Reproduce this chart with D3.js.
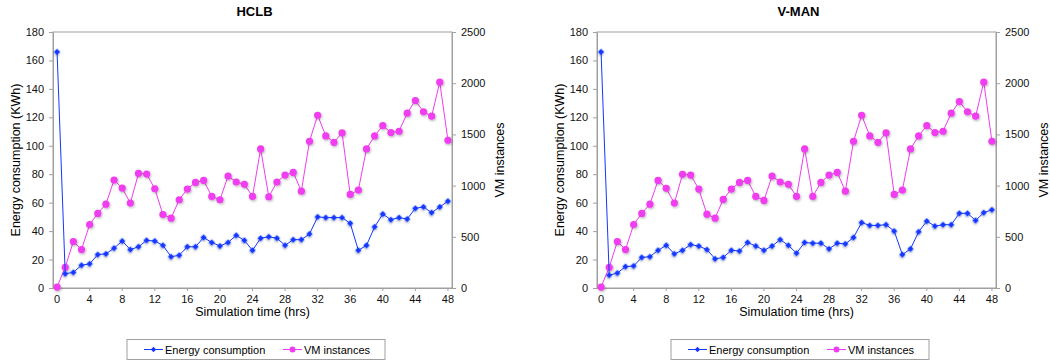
<!DOCTYPE html>
<html>
<head>
<meta charset="utf-8">
<script src="https://cdn.jsdelivr.net/npm/d3@7"></script>
<style>
  body { margin: 0; background: #fff; }
  svg { font-family: "Liberation Sans", Arial, sans-serif; }
  .axis path, .axis line { stroke: #a0a0a0; }
  .axis text { fill: #111; font-size: 11px; }
</style>
</head>
<body>
<svg id="chart" width="1050" height="360"></svg>
<script>
// simulation hours (categories) and tick labels
var hours = [0,1,2,3,4,5,6,7,8,9,10,11,12,13,14,15,16,17,18,19,20,21,22,23,24,
             25,26,27,28,29,30,31,32,33,34,35,36,37,38,39,40,41,42,43,44,45,46,47,48];
var hourTicks = [0,4,8,12,16,20,24,28,32,36,40,44,48];
var energyTicks = [0,20,40,60,80,100,120,140,160,180];
var vmTicks = [0,500,1000,1500,2000,2500];

// HCLB
var hclbEnergy = [166,10,11,16,17,23.5,24,28,33,27,29,33.5,33,30,22,23,29,29,35.5,32,29.5,32,37,33.5,26.5,
                  35,36,35,30,34,34,38,50,49.5,49.5,49.5,45.5,26.5,30,43,52,48,49.5,48.5,56,57,53,57,61];
var hclbVm = [10,202,454,375,620,728,819,1054,976,829,1119,1113,969,718,682,862,966,1031,1051,894,862,1093,1035,1012,894,
              1358,891,1035,1103,1129,946,1433,1687,1485,1423,1514,914,956,1358,1485,1586,1518,1531,1707,1831,1720,1678,2010,1443];

// V-MAN
var vmanEnergy = [166,9,10.5,15,15.5,21.5,22,26.5,30,24,26.5,30.5,29.5,27,20.5,21.5,26.5,26,32,29.5,26.5,29.5,34,30,24.5,
                  32,31.5,31.5,27.5,31.5,31,35.5,46,44,44,44.5,40,23.5,27.5,39.5,47,43.5,44.5,44.5,52.5,52.5,47.5,53,55];
var vmanVm = [10,202,454,375,620,728,819,1051,973,829,1110,1103,966,721,682,865,966,1031,1051,894,855,1093,1035,1012,894,
              1358,894,1031,1103,1129,946,1433,1687,1485,1423,1514,914,956,1358,1485,1586,1518,1531,1707,1821,1720,1678,2010,1433];

var blue = "#1238ff", magenta = "#f03cf0";
var svg = d3.select("#chart");

var defs = svg.append("defs");
defs.append("filter").attr("id", "shadow")
    .attr("x", "-50%").attr("y", "-50%").attr("width", "200%").attr("height", "200%")
  .append("feDropShadow")
    .attr("dx", 0.8).attr("dy", 1.2).attr("stdDeviation", 0.8)
    .attr("flood-color", "#000").attr("flood-opacity", 0.3);

var plotW = 399, plotH = 256, plotTop = 32;
var diamond = d3.symbol().type(d3.symbolSquare).size(20);

function drawChart(left, title, energy, vm) {
    var g = svg.append("g").attr("transform", "translate(" + left + "," + plotTop + ")");

    var x = d3.scaleBand().domain(hours).range([0, plotW]);
    var cx = function(d, i) { return x(hours[i]) + x.bandwidth() / 2; };
    var yE = d3.scaleLinear().domain([0, 180]).range([plotH, 0]);
    var yV = d3.scaleLinear().domain([0, 2500]).range([plotH, 0]);

    // frame
    g.append("rect")
        .attr("width", plotW).attr("height", plotH)
        .attr("fill", "none").attr("stroke", "#a0a0a0");

    g.append("g").attr("class", "axis")
        .attr("transform", "translate(0," + plotH + ")")
        .call(d3.axisBottom(x).tickValues(hourTicks).tickSize(3).tickSizeOuter(0).tickPadding(4));
    g.append("g").attr("class", "axis")
        .call(d3.axisLeft(yE).tickValues(energyTicks).tickSize(4).tickSizeOuter(0).tickPadding(5));
    g.append("g").attr("class", "axis")
        .attr("transform", "translate(" + plotW + ",0)")
        .call(d3.axisRight(yV).tickValues(vmTicks).tickFormat(d3.format("d"))
            .tickSize(4).tickSizeOuter(0).tickPadding(5));

    // titles
    g.append("text")
        .attr("x", plotW / 2 + 2).attr("y", -16)
        .attr("text-anchor", "middle")
        .style("font-size", "13px").style("font-weight", "bold")
        .text(title);
    g.append("text")
        .attr("x", plotW / 2).attr("y", plotH + 27.5)
        .attr("text-anchor", "middle")
        .style("font-size", "12.5px")
        .text("Simulation time (hrs)");
    g.append("text")
        .attr("transform", "translate(-33," + (plotH / 2) + ") rotate(-90)")
        .attr("text-anchor", "middle")
        .style("font-size", "12.5px")
        .text("Energy consumption (KWh)");
    g.append("text")
        .attr("transform", "translate(" + (plotW + 52) + "," + (plotH / 2) + ") rotate(-90)")
        .attr("text-anchor", "middle")
        .style("font-size", "12.5px")
        .text("VM instances");

    // VM instances series
    g.append("path").datum(vm)
        .attr("fill", "none").attr("stroke", magenta).attr("stroke-width", 1)
        .attr("d", d3.line().x(cx).y(function(d) { return yV(d); }));
    g.append("g").selectAll("circle").data(vm).enter().append("circle")
        .attr("cx", cx).attr("cy", function(d) { return yV(d); })
        .attr("r", 3.6).attr("fill", magenta)
        .attr("filter", "url(#shadow)");

    // energy series
    g.append("path").datum(energy)
        .attr("fill", "none").attr("stroke", blue).attr("stroke-width", 1)
        .attr("d", d3.line().x(cx).y(function(d) { return yE(d); }));
    g.append("g").selectAll("path").data(energy).enter().append("path")
        .attr("transform", function(d, i) { return "translate(" + cx(d, i) + "," + yE(d) + ") rotate(45)"; })
        .attr("d", diamond)
        .attr("fill", blue)
        .attr("filter", "url(#shadow)");

    // legend
    var lg = svg.append("g").attr("transform", "translate(" + (left + 74) + ",339.5)");
    lg.append("rect").attr("width", 258).attr("height", 20)
        .attr("fill", "#fff").attr("stroke", "#a0a0a0");
    var items = [
        {name: "Energy consumption", color: blue, x: 17},
        {name: "VM instances", color: magenta, x: 156}
    ];
    items.forEach(function(it) {
        lg.append("line")
            .attr("x1", it.x).attr("x2", it.x + 19).attr("y1", 10).attr("y2", 10)
            .attr("stroke", it.color).attr("stroke-width", 1);
        if (it.color === blue) {
            lg.append("path").attr("transform", "translate(" + (it.x + 9.5) + ",10) rotate(45)")
                .attr("d", d3.symbol().type(d3.symbolSquare).size(14)).attr("fill", blue);
        } else {
            lg.append("circle").attr("cx", it.x + 9.5).attr("cy", 10).attr("r", 3)
                .attr("fill", magenta);
        }
        lg.append("text")
            .attr("x", it.x + 21).attr("y", 14)
            .style("font-size", "11px")
            .text(it.name);
    });
}

drawChart(53, "HCLB", hclbEnergy, hclbVm);
drawChart(597, "V-MAN", vmanEnergy, vmanVm);
</script>
</body>
</html>
